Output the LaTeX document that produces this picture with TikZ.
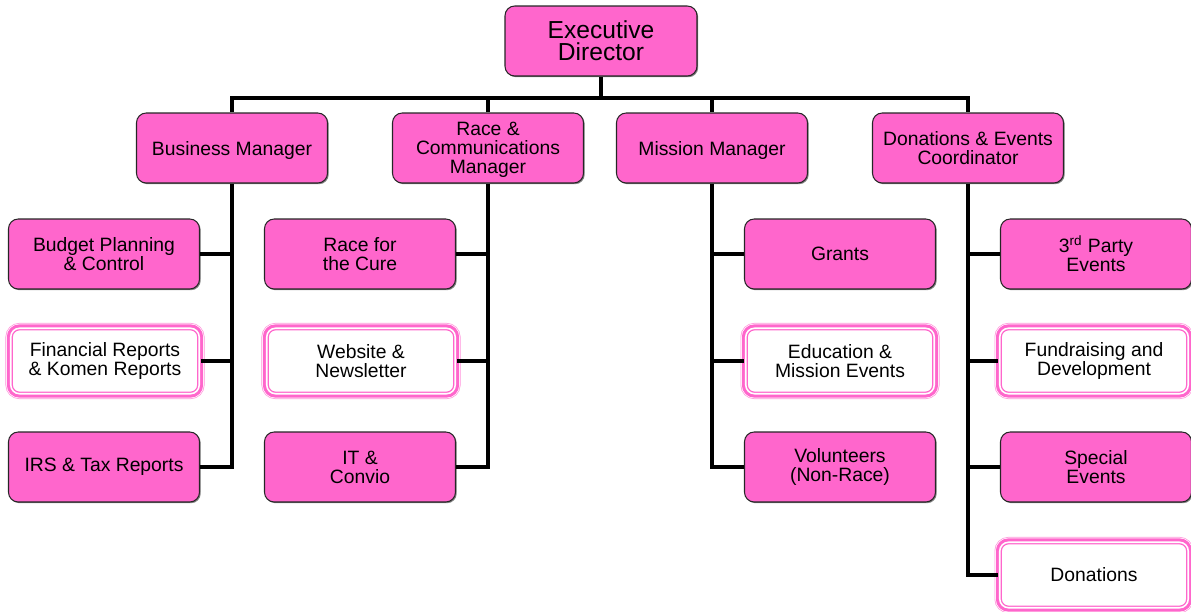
\documentclass[tikz,border=0pt]{standalone}
\usepackage{fontspec}
\setmainfont{Liberation Sans}
\usetikzlibrary{positioning}
\usetikzlibrary{shadows}
\definecolor{orgpink}{HTML}{FF66CC}

\tikzset{
    unit/.style={draw=black!85, fill=orgpink, line width=0.6pt, rounded corners=5.5pt,
        minimum width=3.82cm, minimum height=1.4cm, align=center,
        font=\fontsize{11}{10.8}\selectfont,
        drop shadow={shadow xshift=0.7pt, shadow yshift=-0.7pt, fill=black!70, opacity=0.7}},
    manager/.style={unit, text depth=0pt},
    head/.style={unit, minimum width=3.84cm, font=\fontsize{14}{12.5}\selectfont},
    project/.style={draw=orgpink, line width=2.4pt, fill=white, rounded corners=5pt,
        preaction={draw=orgpink!70, line width=6pt},
        preaction={draw=white, line width=5.2pt},
        preaction={draw=orgpink, line width=4.4pt},
        postaction={draw=white, line width=0.9pt},
        minimum width=3.77cm, minimum height=1.31cm,
        align=center, font=\fontsize{11}{10.8}\selectfont},
    link/.style={line width=2pt, black}
}

\begin{document}
\begin{tikzpicture}[x=0.02cm, y=-0.02cm]
        \useasboundingbox (0,0) rectangle (1191,612);
        \coordinate (bar) at (601,98);

        \node[head] (exec) at (601,41) {Executive\\Director};

        \node[manager] (bus) at (232,148) {Business Manager};
        \node[manager] (race) at (488,148) {Race \&\\Communications\\Manager};
        \node[manager] (mission) at (712,148) {Mission Manager};
        \node[manager] (donev) at (968,148) {Donations \& Events\\Coordinator};

        \node[unit] (budget) at (104,254) {Budget Planning\\\& Control};
        \node[project] (finrep) at (105,361) {Financial Reports\\\& Komen Reports};
        \node[unit] (irs) at (104,467) {IRS \& Tax Reports};

        \node[unit] (cure) at (360,254) {Race for\\the Cure};
        \node[project] (web) at (361,361) {Website \&\\Newsletter};
        \node[unit] (convio) at (360,467) {IT \&\\Convio};

        \node[unit] (grants) at (840,254) {Grants};
        \node[project] (edu) at (840,361) {Education \&\\Mission Events};
        \node[unit] (volun) at (840,467) {Volunteers\\(Non-Race)};

        \node[unit] (third) at (1096,254) {3\textsuperscript{rd} Party\\Events};
        \node[project] (fund) at (1094,361) {Fundraising and\\Development};
        \node[unit] (special) at (1096,467) {Special\\Events};
        \node[project] (donat) at (1094,575) {Donations};

        \draw[link] (exec.south) -- (exec.south |- bar);
        \draw[link] (bus.north) -- (bus.north |- bar) -- (donev.north |- bar) -- (donev.north);
        \draw[link] (race.north) -- (race.north |- bar);
        \draw[link] (mission.north) -- (mission.north |- bar);

        \draw[link] (bus.south) |- (irs.east);
        \draw[link] (budget.east) -- (budget.east -| bus.south);
        \draw[link] (finrep.east) -- (finrep.east -| bus.south);

        \draw[link] (race.south) |- (convio.east);
        \draw[link] (cure.east) -- (cure.east -| race.south);
        \draw[link] (web.east) -- (web.east -| race.south);

        \draw[link] (mission.south) |- (volun.west);
        \draw[link] (grants.west) -- (grants.west -| mission.south);
        \draw[link] (edu.west) -- (edu.west -| mission.south);

        \draw[link] (donev.south) |- (donat.west);
        \draw[link] (third.west) -- (third.west -| donev.south);
        \draw[link] (fund.west) -- (fund.west -| donev.south);
        \draw[link] (special.west) -- (special.west -| donev.south);
\end{tikzpicture}
\end{document}
